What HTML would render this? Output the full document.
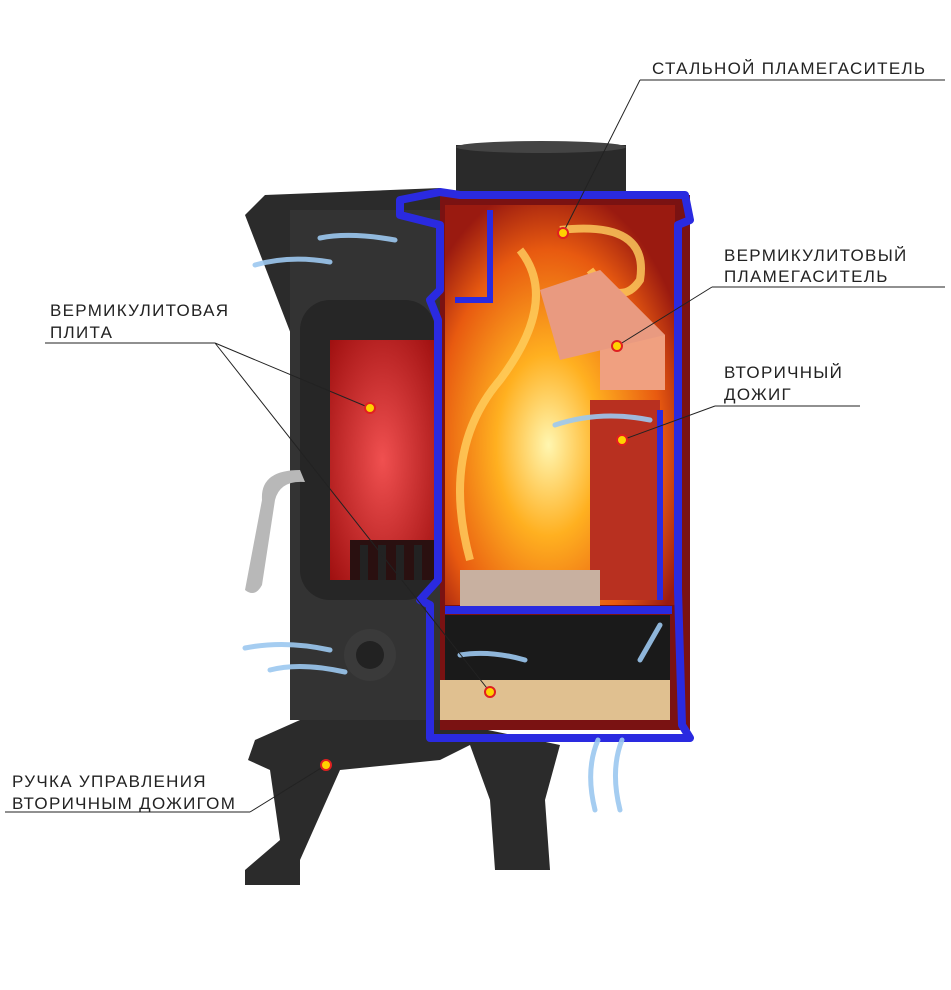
<!DOCTYPE html>
<html><head><meta charset="utf-8"><style>
html,body{margin:0;padding:0;background:#fff;width:951px;height:990px;overflow:hidden}
svg{display:block}
text{font-family:"Liberation Sans",sans-serif;font-size:17px;fill:#222;letter-spacing:1.3px}
</style></head><body>
<svg width="951" height="990" viewBox="0 0 951 990">
<defs>
<radialGradient id="fire" cx="0.45" cy="0.6" r="0.65">
<stop offset="0" stop-color="#fff6b0"/><stop offset="0.35" stop-color="#ffb020"/><stop offset="0.75" stop-color="#e85a10"/><stop offset="1" stop-color="#9a1a10"/>
</radialGradient>
<radialGradient id="red" cx="0.5" cy="0.5" r="0.7">
<stop offset="0" stop-color="#f05050"/><stop offset="1" stop-color="#a01010"/>
</radialGradient>
</defs>
<!-- chimney -->
<rect x="456" y="145" width="170" height="50" fill="#2a2a2a"/>
<ellipse cx="541" cy="147" rx="85" ry="6" fill="#444"/>
<!-- stove body -->
<path d="M245 215 L265 195 L440 188 L440 720 L300 720 L255 740 L248 760 L270 770 L280 840 L245 870 L245 885 L300 885 L300 860 L340 770 L440 760 L470 745 L490 800 L495 870 L550 870 L545 800 L560 745 L440 720 Z" fill="#2b2b2b"/>
<rect x="290" y="210" width="150" height="510" fill="#333"/>
<rect x="300" y="300" width="135" height="300" rx="30" fill="#262626"/>
<rect x="330" y="340" width="105" height="240" fill="url(#red)"/>
<g fill="#2a1010"><rect x="350" y="540" width="85" height="40"/></g>
<g fill="#222"><rect x="360" y="545" width="8" height="35"/><rect x="378" y="545" width="8" height="35"/><rect x="396" y="545" width="8" height="35"/><rect x="414" y="545" width="8" height="35"/></g>
<circle cx="370" cy="655" r="26" fill="#3a3a3a"/><circle cx="370" cy="655" r="14" fill="#222"/>
<path d="M300 470 Q260 470 262 500 L245 590 Q255 598 262 585 L275 500 Q280 480 305 482 Z" fill="#b8b8b8"/>
<!-- cutout interior -->
<rect x="440" y="195" width="250" height="535" fill="#7a1212"/>
<rect x="445" y="205" width="230" height="400" fill="url(#fire)"/>
<g fill="none" stroke="#ffd060" stroke-width="8" opacity="0.8">
<path d="M470 560 Q440 450 500 380 Q560 300 520 250"/>
<path d="M560 230 Q650 220 640 280 Q620 310 590 270"/>
</g>
<path d="M600 270 L665 335 L665 390 L600 390 Z" fill="#f0a080"/>
<path d="M540 290 L600 270 L665 335 L560 360 Z" fill="#e99a80"/>
<rect x="590" y="400" width="70" height="200" fill="#b83020"/>
<rect x="445" y="615" width="225" height="70" fill="#1a1a1a"/>
<rect x="440" y="680" width="230" height="40" fill="#e0c090"/>
<rect x="460" y="570" width="140" height="40" fill="#c8b0a0"/>
<!-- blue outline -->
<path d="M400 200 L440 192 L460 195 L685 195 L690 220 L678 225 L678 590 L682 725 L690 738 L430 738 L430 605 L420 600 L438 580 L438 320 L430 300 L440 290 L440 225 L400 215 Z" fill="none" stroke="#2a2ae0" stroke-width="8" stroke-linejoin="round"/>
<path d="M445 610 L672 610" stroke="#2a2ae0" stroke-width="8"/>
<path d="M490 210 L490 300 L455 300" fill="none" stroke="#2a2ae0" stroke-width="6"/>
<path d="M660 410 L660 600" stroke="#2a2ae0" stroke-width="6"/>
<!-- air arrows -->
<g fill="none" stroke="#9cc8f0" stroke-width="5" stroke-linecap="round" opacity="0.9">
<path d="M255 265 Q290 255 330 262"/><path d="M320 238 Q350 232 395 240"/>
<path d="M245 648 Q285 640 330 650"/><path d="M270 670 Q300 662 345 672"/>
<path d="M595 810 Q585 770 598 740"/><path d="M620 810 Q610 770 622 740"/>
<path d="M460 655 Q490 650 525 660"/><path d="M640 660 L660 625"/>
<path d="M555 425 Q600 410 650 420"/>
</g>
<!-- leader lines -->
<g stroke="#222" stroke-width="1" fill="none">
<path d="M640 80 L945 80 M640 80 L563 233"/>
<path d="M712 287 L945 287 M712 287 L617 346"/>
<path d="M715 406 L860 406 M715 406 L622 440"/>
<path d="M45 343 L215 343 M215 343 L370 408 M215 343 L490 692"/>
<path d="M5 812 L250 812 M250 812 L326 765"/>
</g>
<g fill="#ffd200" stroke="#e02020" stroke-width="2">
<circle cx="563" cy="233" r="5"/><circle cx="617" cy="346" r="5"/><circle cx="622" cy="440" r="5"/>
<circle cx="370" cy="408" r="5"/><circle cx="490" cy="692" r="5"/><circle cx="326" cy="765" r="5"/>
</g>
<text x="652" y="74">СТАЛЬНОЙ ПЛАМЕГАСИТЕЛЬ</text>
<text x="724" y="261">ВЕРМИКУЛИТОВЫЙ</text>
<text x="724" y="282">ПЛАМЕГАСИТЕЛЬ</text>
<text x="724" y="378">ВТОРИЧНЫЙ</text>
<text x="724" y="400">ДОЖИГ</text>
<text x="50" y="316">ВЕРМИКУЛИТОВАЯ</text>
<text x="50" y="338">ПЛИТА</text>
<text x="12" y="787">РУЧКА УПРАВЛЕНИЯ</text>
<text x="12" y="809">ВТОРИЧНЫМ ДОЖИГОМ</text>
</svg>
</body></html>
